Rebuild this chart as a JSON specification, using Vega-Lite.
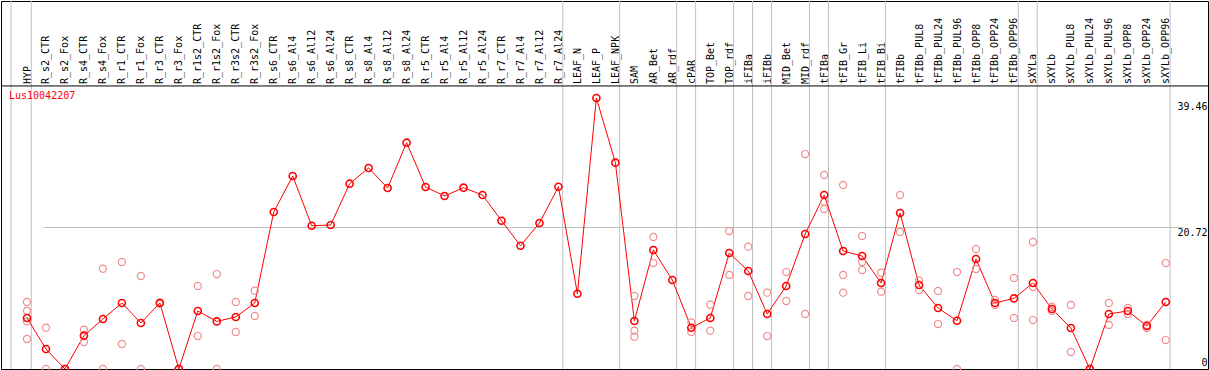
{
  "$schema": "https://vega.github.io/schema/vega-lite/v6.json",
  "width": 1207,
  "height": 368,
  "autosize": {"type": "none"},
  "padding": {"left": 1, "top": 1, "right": 1, "bottom": 1},
  "background": "white",
  "config": {"view": {"stroke": "#000000", "strokeWidth": 1}},
  "title": {
    "text": "Lus10042207",
    "anchor": "start",
    "frame": "group",
    "orient": "top",
    "offset": 0,
    "dx": 8,
    "dy": 100,
    "baseline": "top",
    "color": "#ff0000",
    "font": "DejaVu Sans Mono",
    "fontSize": 10,
    "fontWeight": "normal"
  },
  "datasets": {
    "means": [
      {"name": "HYP", "mean": 7.43},
      {"name": "R_s2_CTR", "mean": 2.91},
      {"name": "R_s2_Fox", "mean": 0},
      {"name": "R_s4_CTR", "mean": 4.85},
      {"name": "R_s4_Fox", "mean": 7.28},
      {"name": "R_r1_CTR", "mean": 9.61},
      {"name": "R_r1_Fox", "mean": 6.7},
      {"name": "R_r3_CTR", "mean": 9.61},
      {"name": "R_r3_Fox", "mean": 0},
      {"name": "R_r1s2_CTR", "mean": 8.45},
      {"name": "R_r1s2_Fox", "mean": 6.93},
      {"name": "R_r3s2_CTR", "mean": 7.57},
      {"name": "R_r3s2_Fox", "mean": 9.61},
      {"name": "R_s6_CTR", "mean": 22.86},
      {"name": "R_s6_Al4", "mean": 28.1},
      {"name": "R_s6_Al12", "mean": 20.86},
      {"name": "R_s6_Al24", "mean": 20.97},
      {"name": "R_s8_CTR", "mean": 26.98},
      {"name": "R_s8_Al4", "mean": 29.27},
      {"name": "R_s8_Al12", "mean": 26.35},
      {"name": "R_s8_Al24", "mean": 32.95},
      {"name": "R_r5_CTR", "mean": 26.5},
      {"name": "R_r5_Al4", "mean": 25.19},
      {"name": "R_r5_Al12", "mean": 26.4},
      {"name": "R_r5_Al24", "mean": 25.33},
      {"name": "R_r7_CTR", "mean": 21.59},
      {"name": "R_r7_Al4", "mean": 17.95},
      {"name": "R_r7_Al12", "mean": 21.26},
      {"name": "R_r7_Al24", "mean": 26.54},
      {"name": "LEAF_N", "mean": 10.96},
      {"name": "LEAF_P", "mean": 39.46},
      {"name": "LEAF_NPK", "mean": 30.04},
      {"name": "SAM", "mean": 6.99},
      {"name": "AR_Bet", "mean": 17.33},
      {"name": "AR_rdf", "mean": 12.96},
      {"name": "cPAR", "mean": 6.01},
      {"name": "TOP_Bet", "mean": 7.43},
      {"name": "TOP_rdf", "mean": 16.89},
      {"name": "iFIBa", "mean": 14.27},
      {"name": "iFIBb", "mean": 8.01},
      {"name": "MID_Bet", "mean": 12.09},
      {"name": "MID_rdf", "mean": 19.66},
      {"name": "tFIBa", "mean": 25.33},
      {"name": "tFIB_Gr", "mean": 17.18},
      {"name": "tFIB_Li", "mean": 16.45},
      {"name": "tFIB_Bi", "mean": 12.52},
      {"name": "tFIBb", "mean": 22.71},
      {"name": "tFIBb_PUL8", "mean": 12.23},
      {"name": "tFIBb_PUL24", "mean": 8.88},
      {"name": "tFIBb_PUL96", "mean": 7.03},
      {"name": "tFIBb_OPP8", "mean": 16.02},
      {"name": "tFIBb_OPP24", "mean": 9.61},
      {"name": "tFIBb_OPP96", "mean": 10.28},
      {"name": "sXYLa", "mean": 12.52},
      {"name": "sXYLb", "mean": 8.74},
      {"name": "sXYLb_PUL8", "mean": 5.97},
      {"name": "sXYLb_PUL24", "mean": 0},
      {"name": "sXYLb_PUL96", "mean": 8.01},
      {"name": "sXYLb_OPP8", "mean": 8.45},
      {"name": "sXYLb_OPP24", "mean": 6.26},
      {"name": "sXYLb_OPP96", "mean": 9.76}
    ],
    "reps": [
      {"name": "HYP", "value": 9.76},
      {"name": "HYP", "value": 8.45},
      {"name": "HYP", "value": 6.93},
      {"name": "HYP", "value": 4.37},
      {"name": "R_s2_CTR", "value": 6.01},
      {"name": "R_s2_CTR", "value": 0},
      {"name": "R_s2_Fox", "value": 0},
      {"name": "R_s2_Fox", "value": 0},
      {"name": "R_s4_CTR", "value": 5.72},
      {"name": "R_s4_CTR", "value": 3.93},
      {"name": "R_s4_Fox", "value": 14.6},
      {"name": "R_s4_Fox", "value": 0},
      {"name": "R_r1_CTR", "value": 15.58},
      {"name": "R_r1_CTR", "value": 3.64},
      {"name": "R_r1_Fox", "value": 13.54},
      {"name": "R_r1_Fox", "value": 0},
      {"name": "R_r3_CTR", "value": 9.7},
      {"name": "R_r3_CTR", "value": 9.52},
      {"name": "R_r3_Fox", "value": 0},
      {"name": "R_r3_Fox", "value": 0},
      {"name": "R_r1s2_CTR", "value": 12.09},
      {"name": "R_r1s2_CTR", "value": 4.8},
      {"name": "R_r1s2_Fox", "value": 13.83},
      {"name": "R_r1s2_Fox", "value": 0},
      {"name": "R_r3s2_CTR", "value": 9.76},
      {"name": "R_r3s2_CTR", "value": 5.39},
      {"name": "R_r3s2_Fox", "value": 11.4},
      {"name": "R_r3s2_Fox", "value": 7.72},
      {"name": "SAM", "value": 10.63},
      {"name": "SAM", "value": 5.58},
      {"name": "SAM", "value": 4.7},
      {"name": "AR_Bet", "value": 19.22},
      {"name": "AR_Bet", "value": 15.43},
      {"name": "cPAR", "value": 6.79},
      {"name": "cPAR", "value": 5.39},
      {"name": "TOP_Bet", "value": 9.36},
      {"name": "TOP_Bet", "value": 5.58},
      {"name": "TOP_rdf", "value": 20.09},
      {"name": "TOP_rdf", "value": 13.69},
      {"name": "iFIBa", "value": 17.81},
      {"name": "iFIBa", "value": 10.63},
      {"name": "iFIBb", "value": 11.11},
      {"name": "iFIBb", "value": 4.8},
      {"name": "MID_Bet", "value": 14.12},
      {"name": "MID_Bet", "value": 9.9},
      {"name": "MID_rdf", "value": 31.3},
      {"name": "MID_rdf", "value": 8.01},
      {"name": "tFIBa", "value": 28.25},
      {"name": "tFIBa", "value": 24.36},
      {"name": "tFIBa", "value": 23.3},
      {"name": "tFIB_Gr", "value": 26.79},
      {"name": "tFIB_Gr", "value": 13.69},
      {"name": "tFIB_Gr", "value": 11.11},
      {"name": "tFIB_Li", "value": 19.37},
      {"name": "tFIB_Li", "value": 15.58},
      {"name": "tFIB_Li", "value": 14.41},
      {"name": "tFIB_Bi", "value": 14.02},
      {"name": "tFIB_Bi", "value": 11.25},
      {"name": "tFIBb", "value": 25.33},
      {"name": "tFIBb", "value": 19.95},
      {"name": "tFIBb_PUL8", "value": 12.9},
      {"name": "tFIBb_PUL8", "value": 11.5},
      {"name": "tFIBb_PUL24", "value": 11.36},
      {"name": "tFIBb_PUL24", "value": 6.55},
      {"name": "tFIBb_PUL96", "value": 14.12},
      {"name": "tFIBb_PUL96", "value": 0},
      {"name": "tFIBb_OPP8", "value": 17.47},
      {"name": "tFIBb_OPP8", "value": 14.56},
      {"name": "tFIBb_OPP24", "value": 10.05},
      {"name": "tFIBb_OPP24", "value": 9.32},
      {"name": "tFIBb_OPP96", "value": 13.25},
      {"name": "tFIBb_OPP96", "value": 7.43},
      {"name": "sXYLa", "value": 18.49},
      {"name": "sXYLa", "value": 11.94},
      {"name": "sXYLa", "value": 7.13},
      {"name": "sXYLb", "value": 8.45},
      {"name": "sXYLb", "value": 9.03},
      {"name": "sXYLb_PUL8", "value": 9.32},
      {"name": "sXYLb_PUL8", "value": 2.48},
      {"name": "sXYLb_PUL24", "value": 0},
      {"name": "sXYLb_PUL24", "value": 0},
      {"name": "sXYLb_PUL96", "value": 9.61},
      {"name": "sXYLb_PUL96", "value": 6.41},
      {"name": "sXYLb_OPP8", "value": 8.88},
      {"name": "sXYLb_OPP8", "value": 8.01},
      {"name": "sXYLb_OPP24", "value": 6.41},
      {"name": "sXYLb_OPP24", "value": 5.97},
      {"name": "sXYLb_OPP96", "value": 15.43},
      {"name": "sXYLb_OPP96", "value": 4.22}
    ],
    "seps": [
      {"name": "HYP", "side": "before"},
      {"name": "HYP", "side": "after"},
      {"name": "R_r7_Al24", "side": "after"},
      {"name": "LEAF_NPK", "side": "after"},
      {"name": "AR_rdf", "side": "after"},
      {"name": "cPAR", "side": "after"},
      {"name": "TOP_rdf", "side": "after"},
      {"name": "iFIBa", "side": "after"},
      {"name": "iFIBb", "side": "after"},
      {"name": "MID_rdf", "side": "after"},
      {"name": "tFIBa", "side": "after"},
      {"name": "tFIB_Bi", "side": "after"},
      {"name": "tFIBb_OPP96", "side": "after"},
      {"name": "sXYLa", "side": "after"},
      {"name": "sXYLb_OPP96", "side": "after"}
    ],
    "header": [{"level": 41.21}]
  },
  "layer": [
    {
      "data": {"name": "seps"},
      "transform": [{"filter": "datum.side === 'after'"}],
      "mark": {"type": "rule", "color": "#c0c0c0", "strokeWidth": 1, "xOffset": 4.3},
      "encoding": {
        "x": {"field": "name", "type": "nominal", "title": null,
          "scale": {"type": "point", "padding": 0, "range": [26, 1164.8], "domain": ["HYP","R_s2_CTR","R_s2_Fox","R_s4_CTR","R_s4_Fox","R_r1_CTR","R_r1_Fox","R_r3_CTR","R_r3_Fox","R_r1s2_CTR","R_r1s2_Fox","R_r3s2_CTR","R_r3s2_Fox","R_s6_CTR","R_s6_Al4","R_s6_Al12","R_s6_Al24","R_s8_CTR","R_s8_Al4","R_s8_Al12","R_s8_Al24","R_r5_CTR","R_r5_Al4","R_r5_Al12","R_r5_Al24","R_r7_CTR","R_r7_Al4","R_r7_Al12","R_r7_Al24","LEAF_N","LEAF_P","LEAF_NPK","SAM","AR_Bet","AR_rdf","cPAR","TOP_Bet","TOP_rdf","iFIBa","iFIBb","MID_Bet","MID_rdf","tFIBa","tFIB_Gr","tFIB_Li","tFIB_Bi","tFIBb","tFIBb_PUL8","tFIBb_PUL24","tFIBb_PUL96","tFIBb_OPP8","tFIBb_OPP24","tFIBb_OPP96","sXYLa","sXYLb","sXYLb_PUL8","sXYLb_PUL24","sXYLb_PUL96","sXYLb_OPP8","sXYLb_OPP24","sXYLb_OPP96"]},
          "axis": {
            "orient": "top",
            "domain": false,
            "ticks": false,
            "tickSize": 0,
            "grid": false,
            "labelAngle": 270,
            "labelAlign": "left",
            "labelBaseline": "middle",
            "labelPadding": -82.5,
            "labelFont": "DejaVu Sans Mono",
            "labelFontSize": 10,
            "labelColor": "#000000",
            "labelOverlap": false,
            "labelBound": false
          }
        }
      }
    },
    {
      "data": {"name": "seps"},
      "transform": [{"filter": "datum.side === 'before'"}],
      "mark": {"type": "rule", "color": "#c0c0c0", "strokeWidth": 1, "xOffset": -16},
      "encoding": {
        "x": {"field": "name", "type": "nominal", "title": null}
      }
    },
    {
      "data": {"name": "header"},
      "mark": {"type": "rule", "color": "#000000", "strokeWidth": 1},
      "encoding": {
        "y": {"field": "level", "type": "quantitative", "title": null,
          "scale": {"domain": [0, 53.58], "nice": false, "zero": true},
          "axis": {
            "orient": "right",
            "values": [0, 20.72, 39.46],
            "format": ".4~g",
            "domain": false,
            "ticks": false,
            "tickSize": 0,
            "grid": true,
            "gridColor": "#c0c0c0",
            "gridWidth": 1,
            "gridOpacity": {"condition": {"test": "datum.value === 20.72", "value": 1}, "value": 0},
            "labelAlign": "right",
            "labelPadding": -1,
            "labelBaseline": {"condition": {"test": "datum.value === 0", "value": "bottom"}, "value": "top"},
            "labelOffset": {"condition": [{"test": "datum.value > 30", "value": 4}, {"test": "datum.value === 0", "value": -2}], "value": 1},
            "labelFont": "DejaVu Sans Mono",
            "labelFontSize": 10,
            "labelColor": "#000000",
            "labelFlush": false,
            "labelOverlap": false
          }
        }
      }
    },
    {
      "data": {"name": "means"},
      "mark": {"type": "line", "color": "#ff0000", "strokeWidth": 1},
      "encoding": {
        "x": {"field": "name", "type": "nominal", "title": null},
        "y": {"field": "mean", "type": "quantitative", "title": null}
      }
    },
    {
      "data": {"name": "reps"},
      "mark": {"type": "point", "shape": "circle", "filled": false, "color": "#f08c8c", "strokeWidth": 1.2, "size": 50, "opacity": 1},
      "encoding": {
        "x": {"field": "name", "type": "nominal", "title": null},
        "y": {"field": "value", "type": "quantitative", "title": null}
      }
    },
    {
      "data": {"name": "means"},
      "mark": {"type": "point", "shape": "circle", "filled": false, "color": "#ff0000", "strokeWidth": 1.6, "size": 50, "opacity": 1},
      "encoding": {
        "x": {"field": "name", "type": "nominal", "title": null},
        "y": {"field": "mean", "type": "quantitative", "title": null}
      }
    }
  ]
}
